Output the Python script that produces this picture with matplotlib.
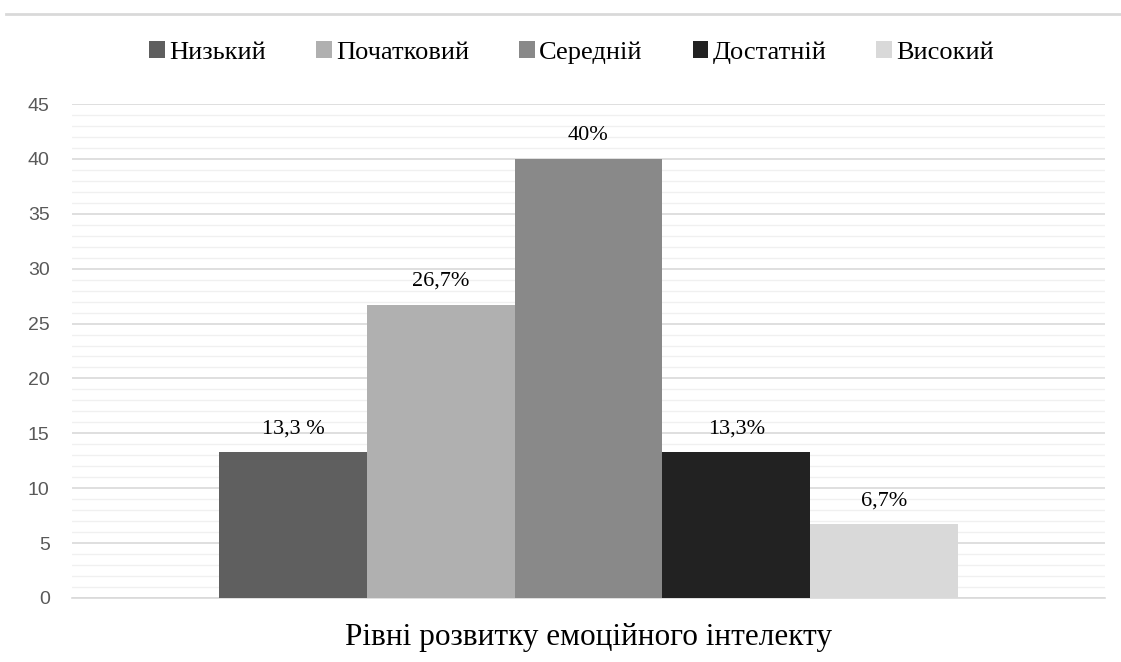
import numpy as np
import matplotlib.pyplot as plt
from matplotlib.lines import Line2D

# levels of emotional intelligence
levels = ['Низький', 'Початковий', 'Середній', 'Достатній', 'Високий']
values = [13.3, 26.7, 40, 13.3, 6.7]
labels = ['13,3 %', '26,7%', '40%', '13,3%', '6,7%']
colors = ['#5f5f5f', '#b0b0b0', '#898989', '#222222', '#d9d9d9']
yticks = [0, 5, 10, 15, 20, 25, 30, 35, 40, 45]

SERIF = 'Liberation Serif'
SANS = 'Liberation Sans'

fig = plt.figure(figsize=(11.21, 6.62), dpi=100)
ax = fig.add_axes([0.0642, 0.0967, 0.9215, 0.7462])

bar_w = 0.143
n = len(values)
xs = (np.arange(n) - (n - 1) / 2) * bar_w
bars = ax.bar(xs, values, width=bar_w, color=colors, linewidth=0,
              label=levels, zorder=3)

for b, txt in zip(bars, labels):
    ax.annotate(txt, (b.get_x() + b.get_width() / 2, b.get_height()),
                xytext=(0, 10), textcoords='offset points', ha='center',
                va='bottom', fontsize=16, family=SERIF, color='#000000')

ax.set_xlim(-0.5, 0.5)
ax.set_ylim(0, 45)
ax.set_yticks(yticks)
ax.set_yticks(np.arange(0, 46, 1), minor=True)
ax.yaxis.grid(True, which='major', color='#d9d9d9', linewidth=1.2, zorder=0)
ax.yaxis.grid(True, which='minor', color='#f0f0f0', linewidth=1.0, zorder=0)
ax.set_axisbelow(True)
ax.tick_params(axis='y', which='both', length=0, labelsize=14,
               labelcolor='#595959', pad=16)
for lab in ax.get_yticklabels():
    lab.set_family(SANS)
ax.set_xticks([])
for s in ['top', 'right', 'left']:
    ax.spines[s].set_visible(False)
ax.spines['bottom'].set_color('#d9d9d9')
ax.spines['bottom'].set_linewidth(1.2)

ax.set_xlabel('Рівні розвитку емоційного інтелекту', fontsize=22.5,
              family=SERIF, labelpad=18)

fig.legend(handles=bars, labels=levels, loc='center', bbox_to_anchor=(0.51, 0.921),
           ncol=5, frameon=False, handlelength=0.6, handleheight=0.6,
           handletextpad=0.15, columnspacing=1.9,
           prop={'family': SERIF, 'size': 19})

fig.add_artist(Line2D([0.005, 1.0], [0.979, 0.979], color='#d9d9d9',
                      linewidth=2, transform=fig.transFigure))

fig.savefig('out.png', dpi=100)
